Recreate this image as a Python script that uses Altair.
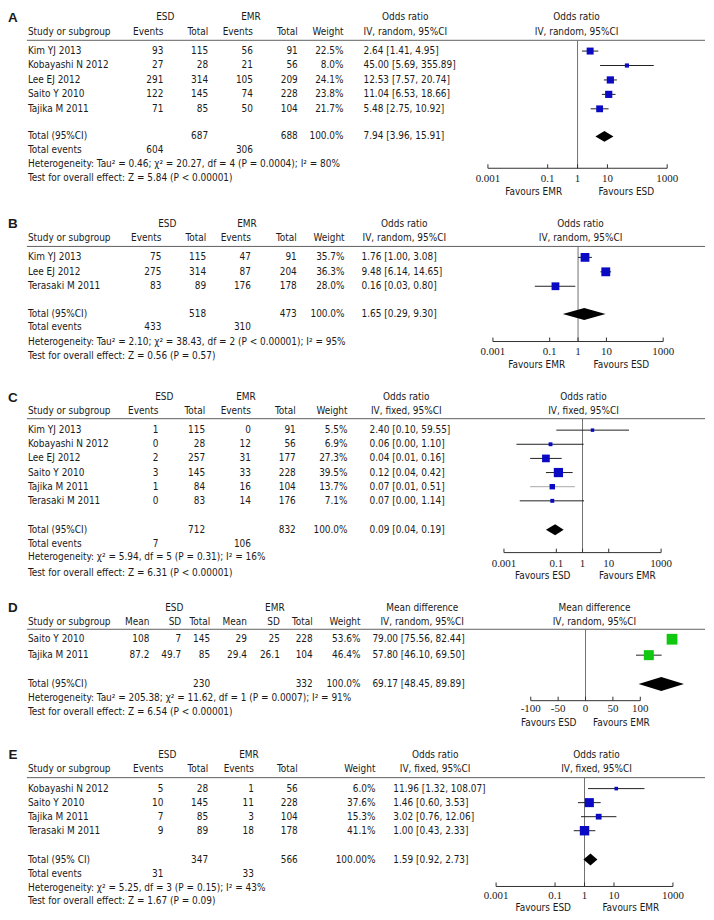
import altair as alt
import pandas as pd

SANS = "DejaVu Sans Condensed, Liberation Sans, sans-serif"
SERIF = "Liberation Serif, DejaVu Serif, serif"
INK = "#1a1a1a"
BLUE = "#0a0ac4"
GREEN = "#10c810"

# ---------------- data: panel A ----------------
A_study = ["Kim YJ 2013", "Kobayashi N 2012", "Lee EJ 2012", "Saito Y 2010", "Tajika M 2011"]
A_esd_events = [93, 27, 291, 122, 71]
A_esd_total = [115, 28, 314, 145, 85]
A_emr_events = [56, 21, 105, 74, 50]
A_emr_total = [91, 56, 209, 228, 104]
A_weight = [22.5, 8.0, 24.1, 23.8, 21.7]
A_est = [2.64, 45.00, 12.53, 11.04, 5.48]
A_lo = [1.41, 5.69, 7.57, 6.53, 2.75]
A_hi = [4.95, 355.89, 20.74, 18.66, 10.92]
A_pooled = [7.94, 3.96, 15.91]
A_sum_total = [687, 688]
A_sum_events = [604, 306]
A_sum_weight = "100.0%"
A_het = "Heterogeneity: Tau² = 0.46; χ² = 20.27, df = 4 (P = 0.0004); I² = 80%"
A_test = "Test for overall effect: Z = 5.84 (P < 0.00001)"
A_favours = ["Favours EMR", "Favours ESD"]

# ---------------- data: panel B ----------------
B_study = ["Kim YJ 2013", "Lee EJ 2012", "Terasaki M 2011"]
B_esd_events = [75, 275, 83]
B_esd_total = [115, 314, 89]
B_emr_events = [47, 87, 176]
B_emr_total = [91, 204, 178]
B_weight = [35.7, 36.3, 28.0]
B_est = [1.76, 9.48, 0.16]
B_lo = [1.00, 6.14, 0.03]
B_hi = [3.08, 14.65, 0.80]
B_pooled = [1.65, 0.29, 9.30]
B_sum_total = [518, 473]
B_sum_events = [433, 310]
B_sum_weight = "100.0%"
B_het = "Heterogeneity: Tau² = 2.10; χ² = 38.43, df = 2 (P < 0.00001); I² = 95%"
B_test = "Test for overall effect: Z = 0.56 (P = 0.57)"
B_favours = ["Favours EMR", "Favours ESD"]

# ---------------- data: panel C ----------------
C_study = ["Kim YJ 2013", "Kobayashi N 2012", "Lee EJ 2012", "Saito Y 2010",
           "Tajika M 2011", "Terasaki M 2011"]
C_esd_events = [1, 0, 2, 3, 1, 0]
C_esd_total = [115, 28, 257, 145, 84, 83]
C_emr_events = [0, 12, 31, 33, 16, 14]
C_emr_total = [91, 56, 177, 228, 104, 176]
C_weight = [5.5, 6.9, 27.3, 39.5, 13.7, 7.1]
C_est = [2.40, 0.06, 0.04, 0.12, 0.07, 0.07]
C_lo = [0.10, 0.003, 0.01, 0.04, 0.01, 0.004]
C_hi = [59.55, 1.10, 0.16, 0.42, 0.51, 1.14]
C_pooled = [0.09, 0.04, 0.19]
C_sum_total = [712, 832]
C_sum_events = [7, 106]
C_sum_weight = "100.0%"
C_het = "Heterogeneity: χ² = 5.94, df = 5 (P = 0.31); I² = 16%"
C_test = "Test for overall effect: Z = 6.31 (P < 0.00001)"
C_favours = ["Favours ESD", "Favours EMR"]

# ---------------- data: panel D ----------------
D_study = ["Saito Y 2010", "Tajika M 2011"]
D_esd_mean = [108, 87.2]
D_esd_sd = [7, 49.7]
D_esd_total = [145, 85]
D_emr_mean = [29, 29.4]
D_emr_sd = [25, 26.1]
D_emr_total = [228, 104]
D_weight = [53.6, 46.4]
D_est = [79.00, 57.80]
D_lo = [75.56, 46.10]
D_hi = [82.44, 69.50]
D_pooled = [69.17, 48.45, 89.89]
D_sum_total = [230, 332]
D_sum_weight = "100.0%"
D_het = "Heterogeneity: Tau² = 205.38; χ² = 11.62, df = 1 (P = 0.0007); I² = 91%"
D_test = "Test for overall effect: Z = 6.54 (P < 0.00001)"
D_favours = ["Favours ESD", "Favours EMR"]

# ---------------- data: panel E ----------------
E_study = ["Kobayashi N 2012", "Saito Y 2010", "Tajika M 2011", "Terasaki M 2011"]
E_esd_events = [5, 10, 7, 9]
E_esd_total = [28, 145, 85, 89]
E_emr_events = [1, 11, 3, 18]
E_emr_total = [56, 228, 104, 178]
E_weight = [6.0, 37.6, 15.3, 41.1]
E_est = [11.96, 1.46, 3.02, 1.00]
E_lo = [1.32, 0.60, 0.76, 0.43]
E_hi = [108.07, 3.53, 12.06, 2.33]
E_pooled = [1.59, 0.92, 2.73]
E_sum_total = [347, 566]
E_sum_events = [31, 33]
E_sum_weight = "100.00%"
E_het = "Heterogeneity: χ² = 5.25, df = 3 (P = 0.15); I² = 43%"
E_test = "Test for overall effect: Z = 1.67 (P = 0.09)"
E_favours = ["Favours ESD", "Favours EMR"]

OR_TICKS = [0.001, 0.1, 1, 10, 1000]
OR_TICK_LABELS = ["0.001", "0.1", "1", "10", "1000"]
MD_TICKS = [-50, -25, 0, 25, 50]
MD_TICK_LABELS = ["-100", "-50", "0", "50", "100"]

# ---------------- panel definitions ----------------
PANELS = [
    dict(label="A", study=A_study,
         cols=[("Events", A_esd_events), ("Total", A_esd_total), ("Events", A_emr_events), ("Total", A_emr_total)],
         weight=A_weight, est=A_est, lo=A_lo, hi=A_hi, pooled=A_pooled,
         sum_total=A_sum_total, total_idx=[1, 3], sum_events=A_sum_events, events_idx=[0, 2],
         sum_weight=A_sum_weight, het=A_het, test=A_test, favours=A_favours,
         measure="Odds ratio", method="IV, random, 95%CI", total_label="Total (95%CI)",
         log=True, color=BLUE),
    dict(label="B", study=B_study,
         cols=[("Events", B_esd_events), ("Total", B_esd_total), ("Events", B_emr_events), ("Total", B_emr_total)],
         weight=B_weight, est=B_est, lo=B_lo, hi=B_hi, pooled=B_pooled,
         sum_total=B_sum_total, total_idx=[1, 3], sum_events=B_sum_events, events_idx=[0, 2],
         sum_weight=B_sum_weight, het=B_het, test=B_test, favours=B_favours,
         measure="Odds ratio", method="IV, random, 95%CI", total_label="Total (95%CI)",
         log=True, color=BLUE),
    dict(label="C", study=C_study,
         cols=[("Events", C_esd_events), ("Total", C_esd_total), ("Events", C_emr_events), ("Total", C_emr_total)],
         weight=C_weight, est=C_est, lo=C_lo, hi=C_hi, pooled=C_pooled,
         sum_total=C_sum_total, total_idx=[1, 3], sum_events=C_sum_events, events_idx=[0, 2],
         sum_weight=C_sum_weight, het=C_het, test=C_test, favours=C_favours,
         measure="Odds ratio", method="IV, fixed, 95%CI", total_label="Total (95%CI)",
         log=True, color=BLUE),
    dict(label="D", study=D_study,
         cols=[("Mean", D_esd_mean), ("SD", D_esd_sd), ("Total", D_esd_total),
               ("Mean", D_emr_mean), ("SD", D_emr_sd), ("Total", D_emr_total)],
         weight=D_weight, est=D_est, lo=D_lo, hi=D_hi, pooled=D_pooled,
         sum_total=D_sum_total, total_idx=[2, 5], sum_events=None, events_idx=None,
         sum_weight=D_sum_weight, het=D_het, test=D_test, favours=D_favours,
         measure="Mean difference", method="IV, random, 95%CI", total_label="Total (95%CI)",
         log=False, color=GREEN),
    dict(label="E", study=E_study,
         cols=[("Events", E_esd_events), ("Total", E_esd_total), ("Events", E_emr_events), ("Total", E_emr_total)],
         weight=E_weight, est=E_est, lo=E_lo, hi=E_hi, pooled=E_pooled,
         sum_total=E_sum_total, total_idx=[1, 3], sum_events=E_sum_events, events_idx=[0, 2],
         sum_weight=E_sum_weight, het=E_het, test=E_test, favours=E_favours,
         measure="Odds ratio", method="IV, fixed, 95%CI", total_label="Total (95% CI)",
         log=True, color=BLUE),
]

# ---------------- layout (page pixels) ----------------
LAYOUTS = [
    dict(top=8, bot=207, y0=49.3, rowpx=14.5, lab=16, h1=15, h2=30, line=38.5,
         total=135, events=148.3, het=162.3, test=176.7, axis=167, ticklab=178, fav=191,
         cols=[162, 207, 252, 297, 343], ci_left=363, ci_c=405, esd_c=164, emr_c=250,
         f_c=577, one=578, dec=30, favx=[534, 627], smax=218, hh=5.5),
    dict(top=207, bot=381, y0=256.5, rowpx=14.5, lab=223, h1=222.5, h2=237.3, line=245.5,
         total=313.3, events=326.7, het=341, test=355.5, axis=341, ticklab=352, fav=365,
         cols=[160, 205, 250, 296, 344], ci_left=361, ci_c=404, esd_c=166, emr_c=246,
         f_c=581, one=578.5, dec=28.5, favx=[537, 622], smax=180, hh=6),
    dict(top=381, bot=593, y0=430, rowpx=14.2, lab=397.5, h1=397, h2=411, line=418.5,
         total=530, events=544.3, het=557.5, test=573.3, axis=553, ticklab=564, fav=577,
         cols=[157, 204, 250, 295, 347], ci_left=369, ci_c=406, esd_c=163, emr_c=245,
         f_c=584, one=583, dec=26.3, favx=[543, 628], smax=124, hh=5.5),
    dict(top=593, bot=738, y0=640, rowpx=16, lab=609, h1=608.3, h2=623, line=630,
         total=685, events=None, het=699.3, test=713.3, axis=701.7, ticklab=710, fav=724,
         cols=[148, 180, 209, 246, 279, 312, 360], ci_left=372, ci_c=422, esd_c=173, emr_c=274,
         f_c=595, zero=586, half=55, favx=[549, 622], smax=226, hh=7),
    dict(top=738, bot=912, y0=790, rowpx=14.1, lab=756.5, h1=756, h2=770, line=779,
         total=861.3, events=875.3, het=890, test=902.7, axis=888.3, ticklab=898.3, fav=910,
         cols=[162, 207, 253, 297, 375], ci_left=393, ci_c=435, esd_c=166, emr_c=248,
         f_c=597, one=585, dec=29.6, favx=[543.5, 631.5], smax=156, hh=6),
]

CI_COLOR_OVERRIDE = {("C", "Tajika M 2011"): "#a8a8a8"}
W = 698


def fmt(v):
    return f"{v:g}"


def ci_txt(e, l, h):
    return f"{e:.2f} [{l:.2f}, {h:.2f}]"


def build_panel(d, L):
    X = lambda px: px - 8
    R = lambda py: (py - L["y0"]) / L["rowpx"]
    ys = alt.Scale(domain=[R(L["top"]), R(L["bot"])], reverse=True, zero=False, nice=False)
    Y = alt.Y("r:Q", scale=ys, axis=None)
    k = len(d["study"])
    cells = []

    def add(px, align, r, text, font=SANS, size=10.0, bold=False):
        cells.append(dict(px=float(px), align=align, r=float(r), t=str(text),
                          font=font, size=float(size), bold=bold))

    cols = L["cols"]
    add(11, "center", R(L["lab"]), d["label"], font="Liberation Sans, sans-serif", size=13.5, bold=True)
    add(L["esd_c"], "center", R(L["h1"]), "ESD")
    add(L["emr_c"], "center", R(L["h1"]), "EMR")
    add(L["ci_c"], "center", R(L["h1"]), d["measure"])
    add(L["f_c"], "center", R(L["h1"]), d["measure"])
    add(26, "left", R(L["h2"]), "Study or subgroup")
    for j, (hdr, vals) in enumerate(d["cols"]):
        add(cols[j], "right", R(L["h2"]), hdr)
        for i, v in enumerate(vals):
            add(cols[j], "right", i, fmt(v))
    add(cols[-1], "right", R(L["h2"]), "Weight")
    add(L["ci_c"], "center", R(L["h2"]), d["method"])
    add(L["f_c"], "center", R(L["h2"]), d["method"])
    for i, s in enumerate(d["study"]):
        add(26, "left", i, s)
        add(cols[-1], "right", i, f"{d['weight'][i]:.1f}%")
        add(L["ci_left"], "left", i, ci_txt(d["est"][i], d["lo"][i], d["hi"][i]))
    # totals
    add(26, "left", R(L["total"]), d["total_label"])
    for idx, v in zip(d["total_idx"], d["sum_total"]):
        add(cols[idx], "right", R(L["total"]), fmt(v))
    add(cols[-1], "right", R(L["total"]), d["sum_weight"])
    add(L["ci_left"], "left", R(L["total"]), ci_txt(*d["pooled"]))
    if d["sum_events"] is not None:
        add(26, "left", R(L["events"]), "Total events")
        for idx, v in zip(d["events_idx"], d["sum_events"]):
            add(cols[idx], "right", R(L["events"]), fmt(v))
    add(26, "left", R(L["het"]), d["het"])
    add(26, "left", R(L["test"]), d["test"])
    add(L["favx"][0], "center", R(L["fav"]), d["favours"][0])
    add(L["favx"][1], "center", R(L["fav"]), d["favours"][1])

    layers = []
    cdf = pd.DataFrame(cells)
    for (px, align, font, size, bold), g in cdf.groupby(["px", "align", "font", "size", "bold"]):
        layers.append(
            alt.Chart(g[["r", "t"]]).mark_text(
                align=align, baseline="middle", font=font, fontSize=size,
                fontWeight="bold" if bold else "normal", color=INK
            ).encode(x=alt.value(X(px)), y=Y, text="t:N")
        )

    # header rule
    layers.append(
        alt.Chart(pd.DataFrame({"r": [R(L["line"])]})).mark_rule(color="#606060", strokeWidth=1)
        .encode(x=alt.value(X(25)), x2=alt.value(X(706)), y=Y)
    )

    # forest scale
    if d["log"]:
        xs = alt.Scale(type="log", domain=[0.001, 1000],
                       range=[X(L["one"] - 3 * L["dec"]), X(L["one"] + 3 * L["dec"])], nice=False)
        ticks, tlabels, ref = OR_TICKS, OR_TICK_LABELS, 1
    else:
        xs = alt.Scale(type="linear", domain=[-50, 50],
                       range=[X(L["zero"] - L["half"]), X(L["zero"] + L["half"])], nice=False, zero=False)
        ticks, tlabels, ref = MD_TICKS, MD_TICK_LABELS, 0

    def XF(f):
        return alt.X(f, scale=xs, axis=None)

    # reference line
    layers.append(
        alt.Chart(pd.DataFrame({"x": [ref], "r": [R(L["line"])], "r2": [R(L["axis"])]}))
        .mark_rule(color="#707070", strokeWidth=1)
        .encode(x=XF("x:Q"), y=Y, y2="r2:Q")
    )

    sdf = pd.DataFrame({
        "r": list(range(k)), "e": d["est"], "lo": d["lo"], "hi": d["hi"], "w": d["weight"],
        "c": [CI_COLOR_OVERRIDE.get((d["label"], s), "#202020") for s in d["study"]],
    })
    layers.append(
        alt.Chart(sdf).mark_rule(strokeWidth=1)
        .encode(x=XF("lo:Q"), x2="hi:Q", y=Y, color=alt.Color("c:N", scale=None, legend=None))
    )
    layers.append(
        alt.Chart(sdf).mark_square(opacity=1, color=d["color"])
        .encode(x=XF("e:Q"), y=Y,
                size=alt.Size("w:Q", scale=alt.Scale(domain=[0, 100], range=[0, L["smax"]]), legend=None))
    )

    # pooled diamond
    rt = R(L["total"])
    hh = L["hh"] / L["rowpx"]
    pe, pl, ph = d["pooled"]
    ddf = pd.DataFrame({"x": [pl, pe, ph], "r": [rt, rt - hh, rt], "r2": [rt, rt + hh, rt]})
    layers.append(
        alt.Chart(ddf).mark_area(color="black", orient="vertical", interpolate="linear", opacity=1)
        .encode(x=XF("x:Q"), y=Y, y2="r2:Q")
    )

    # axis
    ra = R(L["axis"])
    layers.append(
        alt.Chart(pd.DataFrame({"a": [ticks[0]], "b": [ticks[-1]], "r": [ra]}))
        .mark_rule(color="#303030", strokeWidth=1)
        .encode(x=XF("a:Q"), x2="b:Q", y=Y)
    )
    layers.append(
        alt.Chart(pd.DataFrame({"t": ticks, "r": [ra] * len(ticks), "r2": [R(L["axis"] - 4)] * len(ticks)}))
        .mark_rule(color="#303030", strokeWidth=1)
        .encode(x=XF("t:Q"), y=Y, y2="r2:Q")
    )
    layers.append(
        alt.Chart(pd.DataFrame({"t": ticks, "lab": tlabels, "r": [R(L["ticklab"])] * len(ticks)}))
        .mark_text(font=SERIF, fontSize=11, color=INK, baseline="middle", align="center")
        .encode(x=XF("t:Q"), y=Y, text="lab:N")
    )

    return alt.layer(*layers).properties(width=W, height=L["bot"] - L["top"])


panels = [build_panel(d, L) for d, L in zip(PANELS, LAYOUTS)]

chart = (
    alt.vconcat(*panels, spacing=0, bounds="flush")
    .properties(padding=0)
    .configure_view(strokeWidth=0)
)

chart.save("out.html", embed_options={"renderer": "svg", "actions": False})
